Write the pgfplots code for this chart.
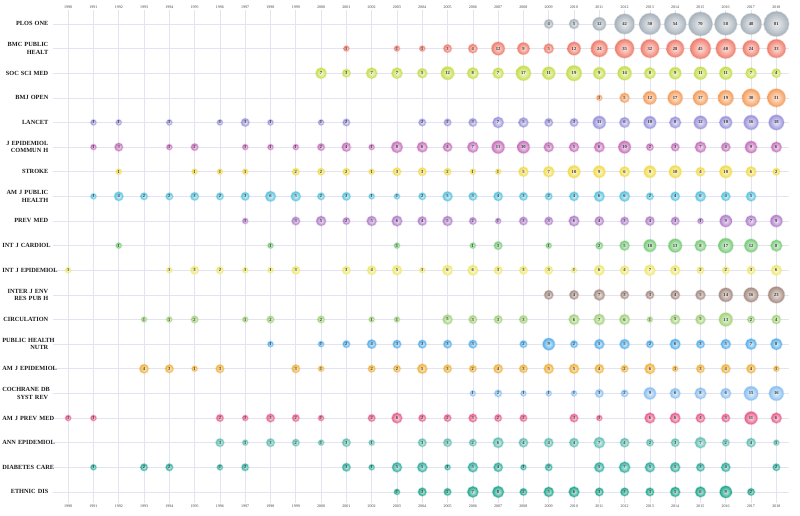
\documentclass[border=0pt]{standalone}
\usepackage{pgfplots}
\pgfplotsset{compat=1.18}
\usepackage{fontspec}
\setmainfont{Liberation Serif}

\definecolor{cPLOS}{HTML}{A9B3BC}
\definecolor{cBMC}{HTML}{F08070}
\definecolor{cSOC}{HTML}{C8DE50}
\definecolor{cBMJ}{HTML}{F5A060}
\definecolor{cLAN}{HTML}{9C96DC}
\definecolor{cJECH}{HTML}{C874BE}
\definecolor{cSTR}{HTML}{F2DC50}
\definecolor{cAJPH}{HTML}{5CC4DE}
\definecolor{cPREV}{HTML}{B482CC}
\definecolor{cCARD}{HTML}{7CCC7C}
\definecolor{cIJE}{HTML}{EEE870}
\definecolor{cENV}{HTML}{A88E84}
\definecolor{cCIRC}{HTML}{A4D47C}
\definecolor{cPHN}{HTML}{58B0EA}
\definecolor{cAJE}{HTML}{F0B440}
\definecolor{cCOCH}{HTML}{8CC0F0}
\definecolor{cAJPM}{HTML}{E8608C}
\definecolor{cANN}{HTML}{64C0B4}
\definecolor{cDIAB}{HTML}{34B0A0}
\definecolor{cETH}{HTML}{22A88E}
\definecolor{gridc}{HTML}{E3E3F2}

\pgfplotsset{
  bub/.style={
    only marks, mark=*, mark options={opacity=0},
    point meta=explicit,
    visualization depends on={2.8*(\thisrow{n})^0.34 \as \rr},
    nodes near coords,
    nodes near coords align={center},
    every node near coord/.append style={circle, anchor=center, inner sep=0pt,
      minimum size=2*\rr pt, inner color=#1!22!white, outer color=#1,
      fill opacity=1, text opacity=1,
      draw=#1, draw opacity=0.35, line width=1.4pt,
      font=\fontsize{4.6}{4.6}\selectfont\bfseries, text=black!80},
  },
  base/.style={
    at={(0,0)}, anchor=south west, scale only axis,
    width=736pt, height=492.6pt,
    xmin=1989.4, xmax=2018.5, ymin=0.55, ymax=20.55,
    xtick={1990,...,2018},
    /pgf/number format/.cd, 1000 sep={}, assume math mode=true, /pgfplots/.cd,
    axis line style={draw=none}, major tick length=0pt,
    xticklabel style={font=\fontsize{4}{4}\selectfont, text=black!75, inner sep=1.5pt},
  }
}

\begin{document}
\begin{tikzpicture}
\begin{axis}[base,
  xticklabel pos=lower,
  grid=major, major grid style={line width=0.6pt, draw=gridc},
  ytick={1,...,20},
  yticklabels={\mbox{ETHNIC DIS}, \mbox{DIABETES CARE}, \mbox{ANN EPIDEMIOL}, \mbox{AM J PREV MED}, {\mbox{COCHRANE DB}\\\mbox{SYST REV}}, \mbox{AM J EPIDEMIOL}, {\mbox{PUBLIC HEALTH}\\\mbox{NUTR}}, \mbox{CIRCULATION}, {\mbox{INTER J ENV}\\\mbox{RES PUB H}}, \mbox{INT J EPIDEMIOL}, \mbox{INT J CARDIOL}, \mbox{PREV MED}, {\mbox{AM J PUBLIC}\\\mbox{HEALTH}}, \mbox{STROKE}, {\mbox{J EPIDEMIOL}\\\mbox{COMMUN H}}, \mbox{LANCET}, \mbox{BMJ OPEN}, \mbox{SOC SCI MED}, {\mbox{BMC PUBLIC}\\\mbox{HEALT}}, \mbox{PLOS ONE}},
  yticklabel style={text width=46pt, align=right, inner sep=0pt, xshift=-4.5pt, font=\fontsize{6.3}{7.6}\selectfont\bfseries, text=black!90},
  clip=false,
]
\addplot[bub=cPLOS] table[x=year, y expr=20, meta=n]{
year n
2009 4
2010 5
2011 12
2012 42
2013 50
2014 54
2015 70
2016 58
2017 48
2018 81
};
\addplot[bub=cBMC] table[x=year, y expr=19, meta=n]{
year n
2001 1
2003 1
2004 1
2005 3
2006 4
2007 12
2008 9
2009 5
2010 12
2011 24
2012 35
2013 32
2014 28
2015 45
2016 40
2017 24
2018 33
};
\addplot[bub=cSOC] table[x=year, y expr=18, meta=n]{
year n
2000 7
2001 3
2002 7
2003 7
2004 5
2005 12
2006 8
2007 7
2008 17
2009 11
2010 19
2011 9
2012 14
2013 8
2014 9
2015 11
2016 11
2017 7
2018 4
};
\addplot[bub=cBMJ] table[x=year, y expr=17, meta=n]{
year n
2011 1
2012 5
2013 12
2014 17
2015 17
2016 19
2017 30
2018 31
};
\addplot[bub=cLAN] table[x=year, y expr=16, meta=n]{
year n
1991 1
1992 1
1994 1
1996 1
1997 3
1998 1
2000 1
2001 2
2004 2
2005 2
2006 3
2007 7
2008 5
2009 3
2010 3
2011 11
2012 6
2013 10
2014 8
2015 12
2016 10
2017 16
2018 18
};
\addplot[bub=cJECH] table[x=year, y expr=15, meta=n]{
year n
1991 1
1992 3
1994 1
1995 2
1997 1
1998 1
1999 1
2000 2
2001 4
2002 1
2003 8
2004 6
2005 4
2006 7
2007 11
2008 10
2009 5
2010 5
2011 6
2012 10
2013 2
2014 3
2015 7
2016 4
2017 9
2018 6
};
\addplot[bub=cSTR] table[x=year, y expr=14, meta=n]{
year n
1992 1
1995 1
1996 1
1997 1
1999 2
2000 2
2001 2
2002 1
2003 3
2004 3
2005 2
2006 1
2007 1
2008 5
2009 7
2010 10
2011 9
2012 6
2013 9
2014 10
2015 4
2016 10
2017 6
2018 2
};
\addplot[bub=cAJPH] table[x=year, y expr=13, meta=n]{
year n
1991 1
1992 4
1993 2
1994 2
1995 3
1996 2
1997 3
1998 6
1999 5
2000 2
2001 3
2002 1
2003 1
2004 2
2005 5
2006 3
2007 4
2008 3
2009 2
2010 4
2011 6
2012 6
2013 2
2014 4
2015 6
2016 4
2017 5
};
\addplot[bub=cPREV] table[x=year, y expr=12, meta=n]{
year n
1997 1
1999 3
2000 5
2001 2
2002 5
2003 6
2004 4
2005 5
2006 2
2007 1
2008 3
2009 3
2010 6
2011 4
2012 3
2013 4
2014 3
2015 1
2016 9
2017 7
2018 9
};
\addplot[bub=cCARD] table[x=year, y expr=11, meta=n]{
year n
1992 1
1998 1
2003 1
2006 1
2007 3
2009 1
2011 2
2012 5
2013 10
2014 13
2015 8
2016 17
2017 12
2018 8
};
\addplot[bub=cIJE] table[x=year, y expr=10, meta=n]{
year n
1990 1
1994 1
1995 3
1996 2
1997 1
1998 1
1999 3
2001 3
2002 4
2003 5
2004 1
2005 6
2006 6
2007 3
2008 3
2009 3
2010 1
2011 6
2012 4
2013 7
2014 5
2015 2
2016 2
2017 3
2018 6
};
\addplot[bub=cENV] table[x=year, y expr=9, meta=n]{
year n
2009 4
2010 4
2011 7
2012 3
2013 3
2014 4
2015 5
2016 14
2017 16
2018 23
};
\addplot[bub=cCIRC] table[x=year, y expr=8, meta=n]{
year n
1993 1
1994 1
1995 2
1997 1
1998 2
2000 2
2002 1
2003 1
2005 5
2006 3
2007 3
2008 3
2010 6
2011 7
2012 6
2013 1
2014 5
2015 5
2016 13
2017 2
2018 4
};
\addplot[bub=cPHN] table[x=year, y expr=7, meta=n]{
year n
1998 1
2000 1
2001 2
2002 4
2003 3
2004 3
2005 3
2006 3
2008 2
2009 9
2010 2
2011 5
2012 5
2013 2
2014 6
2015 3
2016 5
2017 7
2018 8
};
\addplot[bub=cAJE] table[x=year, y expr=6, meta=n]{
year n
1993 4
1994 3
1995 1
1996 3
1999 3
2000 1
2002 2
2003 2
2004 5
2005 3
2006 2
2007 4
2008 3
2009 5
2010 5
2011 4
2012 2
2013 6
2014 1
2015 3
2016 4
2017 4
2018 1
};
\addplot[bub=cCOCH] table[x=year, y expr=5, meta=n]{
year n
2006 1
2007 2
2008 1
2009 1
2010 1
2011 3
2012 2
2013 9
2014 6
2015 8
2016 6
2017 15
2018 16
};
\addplot[bub=cAJPM] table[x=year, y expr=4, meta=n]{
year n
1990 1
1991 1
1996 2
1997 1
1998 3
1999 2
2000 1
2002 2
2003 6
2004 2
2005 2
2006 3
2007 2
2008 2
2010 3
2011 1
2013 6
2014 6
2015 4
2016 3
2017 11
2018 6
};
\addplot[bub=cANN] table[x=year, y expr=3, meta=n]{
year n
1996 3
1997 1
1998 3
1999 2
2000 1
2001 3
2002 1
2004 3
2005 3
2006 2
2007 6
2008 4
2009 4
2010 4
2011 7
2012 4
2013 2
2014 3
2015 7
2016 2
2017 4
2018 1
};
\addplot[bub=cDIAB] table[x=year, y expr=2, meta=n]{
year n
1991 1
1993 2
1994 2
1996 1
1997 2
2001 3
2002 1
2003 5
2004 5
2005 1
2006 5
2007 4
2008 1
2009 2
2011 5
2012 7
2013 5
2014 5
2015 3
2016 4
2018 2
};
\addplot[bub=cETH] table[x=year, y expr=1, meta=n]{
year n
2003 1
2004 3
2005 2
2006 7
2007 8
2008 2
2009 5
2010 6
2011 3
2012 3
2013 3
2014 5
2015 6
2016 9
2017 2
};
\end{axis}
\begin{axis}[base, xticklabel pos=upper, ytick=\empty]
\end{axis}
\pgfresetboundingbox
\useasboundingbox (-53pt,-13pt) rectangle (747pt,503pt);
\end{tikzpicture}
\end{document}
